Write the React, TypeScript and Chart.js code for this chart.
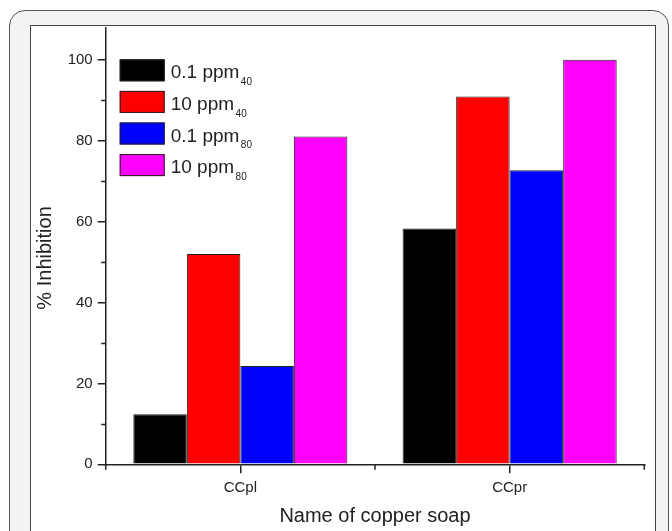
import React, { useEffect, useRef } from 'react';
import { Chart, registerables } from 'chart.js';

Chart.register(...registerables);

const categories = ['CCpl', 'CCpr'];
const seriesNames = ['0.1 ppm', '10 ppm', '0.1 ppm', '10 ppm'];
const seriesSubscripts = ['40', '40', '80', '80'];
const seriesColors = ['#000000', '#ff0000', '#0000ff', '#ff00ff'];
const ppm01_40 = [12.4, 58.3];
const ppm10_40 = [52, 90.9];
const ppm01_80 = [24.3, 72.7];
const ppm10_80 = [81, 100];
const seriesValues = [ppm01_40, ppm10_40, ppm01_80, ppm10_80];
const yMin = 0;
const yMax = 108;
const yStep = 20;
const yMinorTicks = [10, 30, 50, 70, 90];
const xTitle = 'Name of copper soap';
const yTitle = '% Inhibition';

const FONT = '"Liberation Sans", Arial, Helvetica, sans-serif';
const INK = '#222222';

const decorPlugin = {
  id: 'decor',
  afterDraw(chart: any) {
    const { ctx, chartArea, scales } = chart;
    const xs = scales.x;
    const ys = scales.y;
    ctx.save();
    ctx.strokeStyle = INK;
    ctx.lineWidth = 1.5;
    // minor y ticks
    for (const v of yMinorTicks) {
      const y = Math.round(ys.getPixelForValue(v)) + 0.5;
      ctx.beginPath();
      ctx.moveTo(chartArea.left - 4.5, y);
      ctx.lineTo(chartArea.left, y);
      ctx.stroke();
    }
    // minor x ticks at category boundaries
    const mid = (xs.getPixelForValue(0) + xs.getPixelForValue(1)) / 2;
    for (const x of [chartArea.left, mid, chartArea.right]) {
      ctx.beginPath();
      ctx.moveTo(x, chartArea.bottom);
      ctx.lineTo(x, chartArea.bottom + 5.5);
      ctx.stroke();
    }
    // y title
    ctx.fillStyle = INK;
    ctx.font = `20px ${FONT}`;
    ctx.save();
    ctx.translate(45, ys.getPixelForValue(51));
    ctx.rotate(-Math.PI / 2);
    ctx.textAlign = 'center';
    ctx.textBaseline = 'middle';
    ctx.fillText(yTitle, 0, 0);
    ctx.restore();
    // legend inside chart area
    const bx = chartArea.left + 14;
    const by0 = chartArea.top + 32;
    const rowH = 31.6;
    const bw = 45;
    const bh = 22;
    seriesNames.forEach((name, i) => {
      const by = by0 + i * rowH;
      ctx.fillStyle = seriesColors[i];
      ctx.fillRect(bx, by, bw, bh);
      ctx.strokeStyle = INK;
      ctx.lineWidth = 1;
      ctx.strokeRect(bx + 0.5, by + 0.5, bw - 1, bh - 1);
      ctx.fillStyle = INK;
      ctx.textAlign = 'left';
      ctx.textBaseline = 'alphabetic';
      ctx.font = `19px ${FONT}`;
      const tx = bx + bw + 6;
      const base = by + 19;
      ctx.fillText(name, tx, base);
      const w = ctx.measureText(name).width;
      ctx.font = `10px ${FONT}`;
      ctx.fillText(seriesSubscripts[i], tx + w + 1.5, base + 6.7);
    });
    ctx.restore();
  },
};

export default function App() {
  const ref = useRef<HTMLCanvasElement | null>(null);

  useEffect(() => {
    if (!ref.current) return;
    Chart.defaults.font.family = FONT;
    const chart = new Chart(ref.current, {
      type: 'bar',
      data: {
        labels: categories,
        datasets: seriesValues.map((vals, i) => ({
          label: seriesNames[i] + seriesSubscripts[i],
          data: vals,
          backgroundColor: seriesColors[i],
          borderColor: INK,
          borderWidth: 1,
          barPercentage: 1,
          categoryPercentage: 0.795,
        })),
      },
      options: {
        responsive: false,
        animation: false,
        devicePixelRatio: 1,
        layout: { padding: { left: 0, top: 27.3, right: 27.7, bottom: 0 } },
        plugins: {
          legend: { display: false },
          tooltip: { enabled: false },
          title: { display: false },
        },
        scales: {
          x: {
            type: 'category',
            offset: true,
            grid: {
              display: true,
              drawOnChartArea: false,
              offset: false,
              tickLength: 9,
              color: INK,
              lineWidth: 1.5,
            },
            border: { display: true, color: INK, width: 1.5 },
            ticks: { color: INK, font: { size: 15, family: FONT }, padding: 6 },
            title: {
              display: true,
              text: xTitle,
              color: INK,
              font: { size: 20, family: FONT },
              padding: { top: 0, bottom: 3 },
            },
            afterFit(scale: any) {
              scale.height = 66.7;
            },
          },
          y: {
            type: 'linear',
            min: yMin,
            max: yMax,
            grid: {
              display: true,
              drawOnChartArea: false,
              tickLength: 8,
              color: INK,
              lineWidth: 1.5,
            },
            border: { display: true, color: INK, width: 1.5 },
            ticks: {
              stepSize: yStep,
              includeBounds: false,
              color: INK,
              font: { size: 15, family: FONT },
              padding: 5,
            },
            afterFit(scale: any) {
              scale.width = 105.7;
            },
          },
        },
      },
      plugins: [decorPlugin],
    });
    return () => chart.destroy();
  }, []);

  return (
    <div style={{ position: 'absolute', left: 0, top: 0, width: 672, height: 531, overflow: 'hidden', background: '#ffffff' }}>
      <div
        style={{
          position: 'absolute',
          left: 9,
          top: 10,
          width: 660,
          height: 600,
          boxSizing: 'border-box',
          border: '1.5px solid #555',
          borderRadius: 16,
          background: '#f2f3f5',
        }}
      />
      <div
        style={{
          position: 'absolute',
          left: 30,
          top: 25,
          width: 626,
          height: 600,
          boxSizing: 'border-box',
          border: '1px solid #444',
          background: '#ffffff',
        }}
      />
      <canvas ref={ref} width={672} height={531} style={{ position: 'absolute', left: 0, top: 0, width: 672, height: 531 }} />
    </div>
  );
}
